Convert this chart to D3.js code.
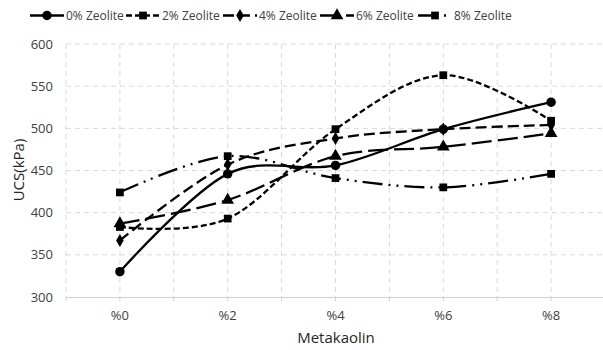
<!DOCTYPE html>
<html><head><meta charset="utf-8">
<script src="https://cdn.jsdelivr.net/npm/d3@7"></script>
<style>body{margin:0;background:#fff}svg{display:block}</style>
</head><body><svg id="chart" width="603" height="350"></svg>
<script>
// Categories and UCS values (kPa) for each zeolite content
const categories = ["%0", "%2", "%4", "%6", "%8"];
const seriesNames = ["0% Zeolite", "2% Zeolite", "4% Zeolite", "6% Zeolite", "8% Zeolite"];
const zeolite0 = [330, 446, 456, 499, 531];
const zeolite2 = [383, 393, 499, 563, 509];
const zeolite4 = [367, 457, 488, 499, 504];
const zeolite6 = [387, 415, 467, 478, 494];
const zeolite8 = [424, 467, 441, 430, 446];
const yTicks = [300, 350, 400, 450, 500, 550, 600];

const seriesValues = [zeolite0, zeolite2, zeolite4, zeolite6, zeolite8];
const dashes = ["", "6,3", "11,5", "20,6", "20,6,2,6,2,6"];
const markers = [d3.symbolCircle, d3.symbolSquare, d3.symbolDiamond, d3.symbolTriangle, d3.symbolSquare];
const markerSizes = [70, 60, 50, 70, 60];

const svg = d3.select("#chart");
const margin = {left: 66, right: 0, top: 44, bottom: 53};
const W = 603, H = 350;

const x = d3.scaleBand().domain(categories).range([66, 605]).paddingInner(0).paddingOuter(0);
const y = d3.scaleLinear().domain([300, 600]).range([297, 44]);
const cx = c => x(c) + x.bandwidth() / 2;

const gridColor = "#d9d9d9";
// horizontal gridlines
svg.append("g").selectAll("line").data(yTicks.slice(1)).join("line")
  .attr("x1", 66).attr("x2", W).attr("y1", d => y(d)).attr("y2", d => y(d))
  .attr("stroke", gridColor).attr("stroke-width", 1).attr("stroke-dasharray", "5,4");
// vertical gridlines at category centres and boundaries
const vLines = [];
categories.forEach(c => { vLines.push(x(c)); vLines.push(cx(c)); });
svg.append("g").selectAll("line").data(vLines).join("line")
  .attr("x1", d => d).attr("x2", d => d).attr("y1", 44).attr("y2", 297)
  .attr("stroke", gridColor).attr("stroke-width", 1).attr("stroke-dasharray", "5,4");

// x axis baseline and ticks
svg.append("line").attr("x1", 66).attr("x2", W).attr("y1", 297.5).attr("y2", 297.5)
  .attr("stroke", "#d0d0d0").attr("stroke-width", 1.2);
svg.append("g").selectAll("line").data(vLines).join("line")
  .attr("x1", d => d).attr("x2", d => d).attr("y1", 297).attr("y2", 301)
  .attr("stroke", "#d0d0d0");

const font = "'Open Sans', 'Segoe UI', sans-serif";
svg.append("g").selectAll("text").data(categories).join("text")
  .attr("x", d => cx(d)).attr("y", 320).attr("text-anchor", "middle")
  .attr("font-family", font).attr("font-size", 13).attr("fill", "#404040").text(d => d);
svg.append("g").selectAll("text").data(yTicks).join("text")
  .attr("x", 53).attr("y", d => y(d) + 4.5).attr("text-anchor", "end")
  .attr("font-family", font).attr("font-size", 13).attr("fill", "#404040").text(d => d);

svg.append("text").attr("x", 336).attr("y", 343).attr("text-anchor", "middle")
  .attr("font-family", font).attr("font-size", 15).attr("fill", "#262626").text("Metakaolin");
svg.append("text").attr("transform", "translate(24,170) rotate(-90)").attr("text-anchor", "middle")
  .attr("font-family", font).attr("font-size", 15).attr("fill", "#262626").text("UCS(kPa)");

// series lines (smoothed) and markers
const line = d3.line().x((d, i) => cx(categories[i])).y(d => y(d)).curve(d3.curveCatmullRom.alpha(0));
seriesValues.forEach((vals, s) => {
  svg.append("path").attr("d", line(vals)).attr("fill", "none")
    .attr("stroke", "#000").attr("stroke-width", 2.3)
    .attr("stroke-dasharray", dashes[s] || null);
  svg.append("g").selectAll("path").data(vals).join("path")
    .attr("transform", (d, i) => `translate(${cx(categories[i])},${y(d)})`)
    .attr("d", d3.symbol().type(markers[s]).size(markerSizes[s])).attr("fill", "#000");
});

// legend
const legendX = [30, 126, 223, 320, 418];
const leg = svg.append("g");
seriesNames.forEach((name, s) => {
  const lx = legendX[s];
  leg.append("line").attr("x1", lx).attr("x2", lx + 34).attr("y1", 15.5).attr("y2", 15.5)
    .attr("stroke", "#000").attr("stroke-width", 2.3).attr("stroke-dasharray", dashes[s] || null);
  leg.append("path").attr("transform", `translate(${lx + 17},15.5)`)
    .attr("d", d3.symbol().type(markers[s]).size(markerSizes[s])).attr("fill", "#000");
  leg.append("text").attr("x", lx + 36).attr("y", 20).attr("font-family", font)
    .attr("font-size", 12).attr("fill", "#404040").text(name);
});
</script></body></html>
